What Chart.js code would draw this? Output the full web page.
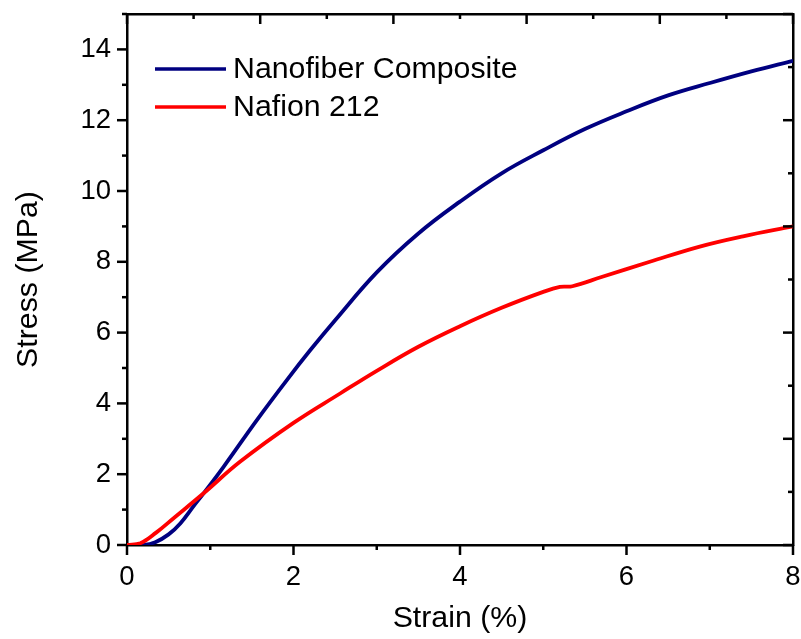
<!DOCTYPE html>
<html>
<head>
<meta charset="utf-8">
<script src="https://cdn.jsdelivr.net/npm/chart.js@4"></script>
<style>
  body { margin: 0; background: #fff; }
  #wrap { width: 801px; height: 639px; }
</style>
</head>
<body>
<div id="wrap"><canvas id="stressChart" width="801" height="639"></canvas></div>
<script>
// values
const seriesNames = ['Nanofiber Composite', 'Nafion 212'];

const compositeStrain = [0, 0.2, 0.34, 0.5, 0.64, 0.8, 0.92, 1.16, 1.56, 1.92, 2.2, 2.5, 3.0, 3.5, 4.0, 4.5, 5.0, 5.5, 6.0, 6.5, 7.0, 7.5, 8.0];
const compositeStress = [0, 0, 0.08, 0.3, 0.61, 1.1, 1.46, 2.21, 3.53, 4.66, 5.5, 6.35, 7.7, 8.8, 9.7, 10.5, 11.15, 11.75, 12.25, 12.7, 13.05, 13.38, 13.68];

const nafionStrain = [0, 0.16, 0.35, 0.556, 0.92, 1.357, 2.0, 2.56, 3.0, 3.5, 4.0, 4.5, 5.0, 5.2, 5.35, 5.7, 6.28, 6.88, 7.4, 8.0];
const nafionStress = [0, 0.05, 0.35, 0.75, 1.46, 2.35, 3.45, 4.28, 4.92, 5.6, 6.18, 6.7, 7.15, 7.29, 7.31, 7.57, 8.0, 8.43, 8.72, 9.0];

const xTicks = [0, 2, 4, 6, 8];
const yTicks = [0, 2, 4, 6, 8, 10, 12, 14];

const FONT = "'Liberation Sans', Arial, sans-serif";

function toPoints(xs, ys) {
    return xs.map((x, i) => ({ x: x, y: ys[i] }));
}

// pin each axis box to a fixed size, no overflow padding
function pinSize(dim, val) {
    return s => {
        s[dim] = val;
        s.paddingLeft = 0;
        s.paddingRight = 0;
        s.paddingTop = 0;
        s.paddingBottom = 0;
    };
}

// tick marks: outward on left/bottom, inward on top/right, minor half length
const tickMarks = {
    id: 'tickMarks',
    afterDraw(chart) {
        const ctx = chart.ctx;
        const area = chart.chartArea;
        ctx.save();
        ctx.strokeStyle = '#000';
        ctx.lineWidth = 2.5;
        ctx.lineCap = 'butt';
        ['x', 'x2', 'y', 'y2'].forEach(id => {
            const scale = chart.scales[id];
            scale.ticks.forEach(t => {
                const len = (t.value % 2 === 0) ? 10 : 5;
                const p = scale.getPixelForValue(t.value);
                ctx.beginPath();
                if (id === 'x') { ctx.moveTo(p, area.bottom); ctx.lineTo(p, area.bottom + len); }
                if (id === 'x2') { ctx.moveTo(p, area.top); ctx.lineTo(p, area.top + len); }
                if (id === 'y') { ctx.moveTo(area.left, p); ctx.lineTo(area.left - len, p); }
                if (id === 'y2') { ctx.moveTo(area.right, p); ctx.lineTo(area.right - len, p); }
                ctx.stroke();
            });
        });
        ctx.restore();
    }
};

// legend drawn inside the plot, upper left
const insideLegend = {
    id: 'insideLegend',
    afterDraw(chart) {
        const ctx = chart.ctx;
        ctx.save();
        ctx.font = '30.3px ' + FONT;
        ctx.textBaseline = 'middle';
        ctx.fillStyle = '#000';
        chart.data.datasets.forEach((ds, i) => {
            const y = 69 + i * 38;
            ctx.strokeStyle = ds.borderColor;
            ctx.lineWidth = 3.5;
            ctx.beginPath();
            ctx.moveTo(155, y);
            ctx.lineTo(226, y);
            ctx.stroke();
            ctx.fillText(ds.label, 233, y + 1);
        });
        ctx.restore();
    }
};

const axisBorder = { display: true, color: '#000', width: 2.5 };
const noGrid = { display: true, drawOnChartArea: false, drawTicks: false };

const ctx = document.getElementById('stressChart').getContext('2d');
const chart = new Chart(ctx, {
    type: 'line',
    data: {
        datasets: [
            {
                label: seriesNames[0],
                data: toPoints(compositeStrain, compositeStress),
                borderColor: '#000080',
                backgroundColor: '#000080',
                borderWidth: 3.8,
                pointRadius: 0,
                tension: 0.4,
                fill: false,
                order: 1
            },
            {
                label: seriesNames[1],
                data: toPoints(nafionStrain, nafionStress),
                borderColor: '#ff0000',
                backgroundColor: '#ff0000',
                borderWidth: 3.8,
                pointRadius: 0,
                tension: 0.4,
                fill: false,
                order: 0
            }
        ]
    },
    options: {
        responsive: false,
        animation: false,
        layout: { padding: 0 },
        plugins: {
            legend: { display: false },
            tooltip: { enabled: false }
        },
        scales: {
            x: {
                type: 'linear',
                position: 'bottom',
                min: 0,
                max: 8,
                grid: noGrid,
                border: axisBorder,
                afterFit: pinSize('height', 94),
                ticks: {
                    stepSize: 1,
                    autoSkip: false,
                    maxRotation: 0,
                    padding: 16,
                    color: '#000',
                    font: { family: FONT, size: 27.5 },
                    callback: v => xTicks.includes(v) ? String(v) : ''
                },
                title: {
                    display: true,
                    text: 'Strain (%)',
                    color: '#000',
                    font: { family: FONT, size: 30.3, lineHeight: 1 },
                    padding: { top: 0, bottom: 5 }
                }
            },
            x2: {
                type: 'linear',
                position: 'top',
                min: 0,
                max: 10,
                grid: noGrid,
                border: axisBorder,
                afterFit: pinSize('height', 14),
                ticks: { stepSize: 1, autoSkip: false, display: false }
            },
            y: {
                type: 'linear',
                position: 'left',
                min: 0,
                max: 15,
                grid: noGrid,
                border: axisBorder,
                afterFit: pinSize('width', 127),
                ticks: {
                    stepSize: 1,
                    autoSkip: false,
                    padding: 16,
                    color: '#000',
                    font: { family: FONT, size: 27.5 },
                    callback: v => yTicks.includes(v) ? String(v) : ''
                },
                title: {
                    display: true,
                    text: 'Stress (MPa)',
                    color: '#000',
                    font: { family: FONT, size: 30.3, lineHeight: 1 },
                    padding: { top: 13, bottom: 0 }
                }
            },
            y2: {
                type: 'linear',
                position: 'right',
                min: 0,
                max: 10,
                grid: noGrid,
                border: axisBorder,
                afterFit: pinSize('width', 8),
                ticks: { stepSize: 1, autoSkip: false, display: false }
            }
        }
    },
    plugins: [tickMarks, insideLegend]
});
</script>
</body>
</html>
